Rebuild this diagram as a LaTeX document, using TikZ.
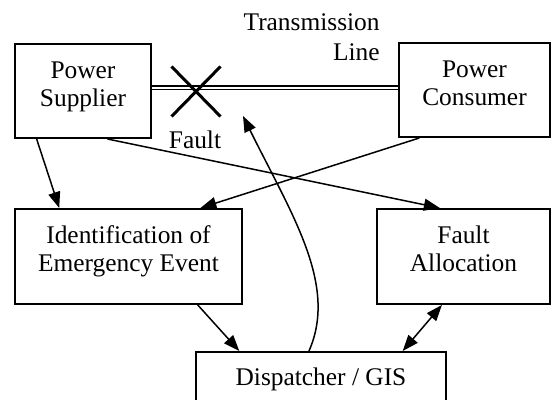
\documentclass[tikz,border=0pt]{standalone}
\usepackage{fontspec}
\setmainfont{Liberation Serif}
\usetikzlibrary{positioning,arrows.meta,shapes.misc}

\newcommand{\boxlines}[1]{\raisebox{2.2pt}[\height][\depth]{\begin{tabular}{@{}c@{}}#1\end{tabular}}}

\begin{document}
\begin{tikzpicture}[x=0.5pt, y=-0.5pt,
    every node/.style={font=\fontsize{12.7}{14}\selectfont},
    block/.style={draw, line width=1pt, rectangle, inner sep=0pt, minimum height=47pt},
    flow/.style={line width=0.75pt, -{Triangle[length=8pt,width=6pt]}}]
    \clip (0,0) rectangle (552,400);

    % Top row - supplier and consumer joined by the line
    \node[block, minimum width=68pt] (sup) at (83,91) {\boxlines{Power\\Supplier}};
    \node[block, minimum width=75.5pt] (con) at (474.5,90) {\boxlines{Power\\Consumer}};
    \draw[line width=0.6pt, double, double distance=1.3pt] ([yshift=1.5pt]sup.east) -- ([yshift=1.5pt]sup.east -| con.west);
    \node[align=right, anchor=east, inner sep=0pt] (tline) at (380,37) {Transmission\\[1pt]Line};

    % Fault mark on the line
    \node[cross out, draw, line width=1.5pt, minimum width=23pt, minimum height=23.5pt, inner sep=0pt] (xmark) at (196,91.5) {};
    \node (flt) at (195,140) {Fault};
    \coordinate (ftip) at (243,116);

    % Middle row and dispatcher
    \node[block, minimum width=113.5pt, minimum height=47.5pt] (ide) at (128.5,256.5) {\boxlines{Identification of\\Emergency Event}};
    \node[block, minimum width=86.5pt, minimum height=47.5pt] (fal) at (463.5,256.5) {\boxlines{Fault\\Allocation}};
    \node[block, minimum width=125pt, minimum height=32pt] (dis) at (321,384) {\boxlines{Dispatcher / GIS}};

    % Connectors
    \foreach \a/\b in {sup.226/ide.145, sup.297/fal.116.3, con.221.8/ide.34.7, ide.325.3/dis.158.4} {
        \draw[flow] (\a) -- (\b);
    }
    \draw[line width=0.75pt, {Triangle[length=8pt,width=6pt]}-{Triangle[length=8pt,width=6pt]}] (dis.22) -- (fal.246.7);
    \draw[flow] (dis.110.6) .. controls (338,285) and (292,215) .. (ftip);
\end{tikzpicture}
\end{document}
